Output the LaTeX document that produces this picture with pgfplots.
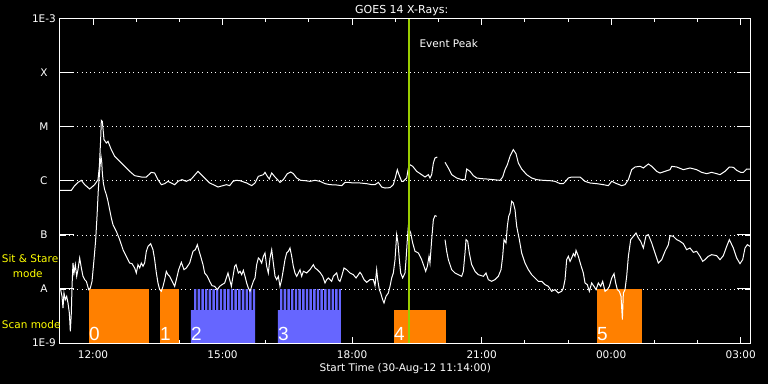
\documentclass[border=0pt]{standalone}
\usepackage{fontspec}
\setmainfont{DejaVu Sans}
\newfontfamily\digitfont{Liberation Sans}
\usepackage{pgfplots}
\pgfplotsset{compat=1.18}
\definecolor{scanorange}{RGB}{255,128,0}
\definecolor{scanblue}{RGB}{102,102,255}
\definecolor{peakgreen}{RGB}{154,205,0}
\definecolor{modeyellow}{RGB}{255,255,0}
\newcommand{\lbl}{\fontsize{10.5bp}{12bp}\selectfont}
\newcommand{\dgt}{\digitfont\fontsize{19bp}{19bp}\selectfont}
\begin{document}
\begin{tikzpicture}
\fill[black] (-59.9bp,-41bp) rectangle (708.1bp,343bp);
\pgfplotsset{base/.style={width=690.9bp,height=324bp,scale only axis,at={(0,0)},anchor=south west,
  xmin=11.2333,xmax=27.2333,ymin=-9,ymax=-3,
  axis line style={white,line width=1bp}, tick style={white,line width=1bp},
  tick align=inside, xtick pos=both, ytick pos=both,
  every tick label/.append style={white,font=\lbl}}}
\begin{axis}[base,
  xtick={12,15,18,21,24,27},
  xticklabels={12:00,15:00,18:00,21:00,00:00,03:00},
  minor xtick={13,14,16,17,19,20,22,23,25,26},
  major tick length=6bp, minor tick length=3.5bp,
  xticklabel style={anchor=center,yshift=-12bp},
  ytick={-8,-7,-6,-5,-4}, yticklabels={},
  ymajorgrids, grid style={white,line width=1bp,dash pattern=on 1bp off 3.32bp},
  xlabel={Start Time (30-Aug-12 11:14:00)},
  xlabel style={white,font=\lbl,at={(axis description cs:0.5,0)},anchor=center,yshift=-26bp},
  unbounded coords=jump]
% scan blocks
\addplot[fill=scanorange,draw=none] coordinates {(11.907,-9) (11.907,-8) (13.297,-8) (13.297,-9)} -- cycle;
\addplot[fill=scanorange,draw=none] coordinates {(13.552,-9) (13.552,-8) (13.992,-8) (13.992,-9)} -- cycle;
\addplot[fill=scanblue,draw=none] coordinates {(14.269,-9) (14.269,-8.389) (14.339,-8.389) (14.339,-8) (14.395,-8) (14.395,-8.389) (14.424,-8.389) (14.424,-8) (14.480,-8) (14.480,-8.389) (14.509,-8.389) (14.509,-8) (14.565,-8) (14.565,-8.389) (14.595,-8.389) (14.595,-8) (14.651,-8) (14.651,-8.389) (14.680,-8.389) (14.680,-8) (14.736,-8) (14.736,-8.389) (14.765,-8.389) (14.765,-8) (14.821,-8) (14.821,-8.389) (14.850,-8.389) (14.850,-8) (14.906,-8) (14.906,-8.389) (14.936,-8.389) (14.936,-8) (14.992,-8) (14.992,-8.389) (15.021,-8.389) (15.021,-8) (15.077,-8) (15.077,-8.389) (15.106,-8.389) (15.106,-8) (15.162,-8) (15.162,-8.389) (15.191,-8.389) (15.191,-8) (15.247,-8) (15.247,-8.389) (15.276,-8.389) (15.276,-8) (15.332,-8) (15.332,-8.389) (15.362,-8.389) (15.362,-8) (15.418,-8) (15.418,-8.389) (15.447,-8.389) (15.447,-8) (15.503,-8) (15.503,-8.389) (15.532,-8.389) (15.532,-8) (15.588,-8) (15.588,-8.389) (15.617,-8.389) (15.617,-8) (15.673,-8) (15.673,-8.389) (15.702,-8.389) (15.702,-8) (15.752,-8) (15.752,-9)} -- cycle;
\addplot[fill=scanblue,draw=none] coordinates {(16.284,-9) (16.284,-8.389) (16.331,-8.389) (16.331,-8) (16.387,-8) (16.387,-8.389) (16.416,-8.389) (16.416,-8) (16.472,-8) (16.472,-8.389) (16.501,-8.389) (16.501,-8) (16.557,-8) (16.557,-8.389) (16.587,-8.389) (16.587,-8) (16.643,-8) (16.643,-8.389) (16.672,-8.389) (16.672,-8) (16.728,-8) (16.728,-8.389) (16.757,-8.389) (16.757,-8) (16.813,-8) (16.813,-8.389) (16.842,-8.389) (16.842,-8) (16.898,-8) (16.898,-8.389) (16.928,-8.389) (16.928,-8) (16.984,-8) (16.984,-8.389) (17.013,-8.389) (17.013,-8) (17.069,-8) (17.069,-8.389) (17.098,-8.389) (17.098,-8) (17.154,-8) (17.154,-8.389) (17.183,-8.389) (17.183,-8) (17.239,-8) (17.239,-8.389) (17.268,-8.389) (17.268,-8) (17.324,-8) (17.324,-8.389) (17.354,-8.389) (17.354,-8) (17.410,-8) (17.410,-8.389) (17.439,-8.389) (17.439,-8) (17.495,-8) (17.495,-8.389) (17.524,-8.389) (17.524,-8) (17.580,-8) (17.580,-8.389) (17.609,-8.389) (17.609,-8) (17.665,-8) (17.665,-8.389) (17.694,-8.389) (17.694,-8) (17.743,-8) (17.743,-9)} -- cycle;
\addplot[fill=scanorange,draw=none] coordinates {(18.971,-9) (18.971,-8.389) (20.168,-8.389) (20.168,-9)} -- cycle;
\addplot[fill=scanorange,draw=none] coordinates {(23.672,-9) (23.672,-8) (24.707,-8) (24.707,-9)} -- cycle;
% long channel (1-8 A)
\addplot[white,line width=1bp] coordinates {
(11.234,-6.173) (11.498,-6.173) (11.575,-6.086) (11.652,-6.025) (11.730,-5.988) (11.807,-6.068) (11.923,-6.148) (12.038,-6.068) (12.116,-5.975) (12.147,-5.728) (12.177,-5.235) (12.193,-4.877) (12.216,-4.895) (12.255,-5.235) (12.309,-5.296) (12.347,-5.265) (12.424,-5.420) (12.502,-5.543) (12.617,-5.636) (12.733,-5.728) (12.849,-5.821) (12.965,-5.901) (13.119,-5.926) (13.235,-5.926) (13.351,-5.840) (13.428,-5.852) (13.505,-5.975) (13.582,-6.068) (13.660,-6.049) (13.737,-6.006) (13.814,-6.037) (13.891,-6.068) (13.968,-6.006) (14.061,-5.975) (14.161,-6.006) (14.277,-5.963) (14.432,-5.821) (14.509,-5.883) (14.586,-5.944) (14.702,-6.037) (14.818,-6.080) (14.895,-6.111) (15.010,-6.086) (15.088,-6.068) (15.165,-6.086) (15.242,-6.006) (15.312,-5.988) (15.404,-5.994) (15.559,-6.037) (15.674,-6.086) (15.752,-6.037) (15.829,-5.914) (15.945,-5.883) (15.983,-5.840) (16.037,-5.914) (16.084,-5.963) (16.138,-5.852) (16.215,-5.926) (16.331,-6.025) (16.408,-5.975) (16.500,-5.864) (16.578,-5.833) (16.639,-5.864) (16.717,-5.944) (16.809,-5.988) (16.910,-5.994) (17.025,-6.006) (17.141,-5.988) (17.257,-6.006) (17.373,-6.049) (17.489,-6.068) (17.643,-6.074) (17.759,-6.086) (17.836,-6.025) (17.913,-6.025) (18.029,-6.037) (18.183,-6.037) (18.338,-6.049) (18.453,-6.068) (18.531,-6.068) (18.608,-6.025) (18.685,-6.111) (18.762,-6.130) (18.878,-6.123) (18.955,-6.068) (19.009,-5.914) (19.048,-5.790) (19.086,-5.883) (19.148,-6.006) (19.187,-6.006) (19.264,-5.944) (19.303,-5.759) (19.341,-5.698) (19.403,-5.728) (19.496,-5.821) (19.611,-5.883) (19.689,-5.926) (19.766,-5.883) (19.804,-5.944) (19.843,-5.883) (19.882,-5.667) (19.920,-5.574) (19.974,-5.556) (20.060,nan) (20.152,-5.654) (20.229,-5.759) (20.306,-5.883) (20.422,-5.944) (20.538,-5.975) (20.615,-5.975) (20.654,-5.778) (20.731,-5.821) (20.808,-5.901) (20.885,-5.944) (21.001,-5.957) (21.117,-5.963) (21.271,-5.975) (21.426,-5.988) (21.487,-5.926) (21.541,-5.790) (21.595,-5.698) (21.657,-5.543) (21.734,-5.420) (21.796,-5.494) (21.850,-5.667) (21.927,-5.778) (22.043,-5.883) (22.159,-5.944) (22.275,-5.975) (22.429,-5.988) (22.583,-5.994) (22.699,-6.006) (22.815,-6.049) (22.892,-6.049) (22.946,-6.006) (23.008,-5.944) (23.085,-5.926) (23.162,-5.926) (23.278,-5.926) (23.394,-6.006) (23.510,-6.037) (23.664,-6.049) (23.819,-6.068) (23.934,-6.086) (24.012,-6.006) (24.127,-6.049) (24.243,-6.086) (24.320,-6.068) (24.398,-5.975) (24.475,-5.790) (24.552,-5.741) (24.668,-5.728) (24.745,-5.759) (24.861,-5.685) (24.938,-5.728) (25.054,-5.821) (25.131,-5.852) (25.247,-5.821) (25.362,-5.790) (25.401,-5.728) (25.517,-5.741) (25.671,-5.790) (25.826,-5.759) (25.980,-5.790) (26.096,-5.840) (26.212,-5.864) (26.327,-5.840) (26.443,-5.864) (26.520,-5.883) (26.636,-5.821) (26.737,-5.741) (26.829,-5.747) (26.906,-5.802) (26.999,-5.840) (27.061,-5.840) (27.138,-5.778) (27.215,-5.778)};
% short channel (0.5-4 A)
\addplot[white,line width=1bp] coordinates {
(11.234,-8.000) (11.251,-8.012) (11.282,-8.136) (11.305,-8.352) (11.328,-8.074) (11.359,-8.198) (11.390,-8.136) (11.421,-8.259) (11.452,-8.444) (11.475,-8.784) (11.498,-8.444) (11.514,-7.951) (11.537,-7.519) (11.560,-7.704) (11.591,-7.549) (11.622,-7.765) (11.652,-7.642) (11.691,-7.426) (11.730,-7.611) (11.768,-7.765) (11.807,-7.827) (11.846,-7.858) (11.900,-8.012) (11.938,-7.981) (11.977,-7.858) (12.023,-7.457) (12.062,-7.086) (12.093,-6.654) (12.123,-6.160) (12.162,-5.728) (12.185,-5.543) (12.201,-5.636) (12.216,-5.852) (12.239,-6.037) (12.270,-6.160) (12.309,-6.253) (12.347,-6.376) (12.386,-6.531) (12.424,-6.685) (12.463,-6.809) (12.540,-6.932) (12.617,-7.086) (12.695,-7.272) (12.772,-7.395) (12.849,-7.519) (12.903,-7.531) (12.965,-7.611) (13.003,-7.704) (13.042,-7.549) (13.081,-7.611) (13.119,-7.519) (13.158,-7.580) (13.196,-7.519) (13.235,-7.302) (13.274,-7.210) (13.335,-7.160) (13.389,-7.272) (13.428,-7.457) (13.467,-7.704) (13.505,-7.889) (13.544,-8.012) (13.582,-8.043) (13.621,-7.951) (13.660,-7.827) (13.698,-7.673) (13.737,-7.735) (13.775,-7.765) (13.814,-7.827) (13.891,-7.951) (13.930,-7.827) (13.984,-7.642) (14.046,-7.506) (14.107,-7.642) (14.161,-7.611) (14.239,-7.519) (14.316,-7.302) (14.370,-7.272) (14.416,-7.179) (14.447,-7.272) (14.493,-7.395) (14.547,-7.549) (14.586,-7.704) (14.648,-7.765) (14.702,-7.858) (14.756,-7.938) (14.818,-7.951) (14.879,-8.012) (14.933,-7.951) (14.987,-7.920) (15.049,-7.889) (15.126,-7.704) (15.165,-7.827) (15.204,-7.951) (15.242,-7.765) (15.281,-7.580) (15.312,-7.549) (15.366,-7.704) (15.404,-7.673) (15.443,-7.735) (15.481,-7.654) (15.520,-7.765) (15.559,-7.889) (15.597,-7.981) (15.636,-8.043) (15.674,-7.951) (15.713,-7.858) (15.752,-7.796) (15.790,-7.549) (15.829,-7.426) (15.867,-7.457) (15.906,-7.519) (15.945,-7.395) (15.983,-7.333) (16.022,-7.580) (16.060,-7.704) (16.099,-7.426) (16.138,-7.272) (16.176,-7.519) (16.215,-7.765) (16.253,-7.827) (16.292,-7.765) (16.330,-7.951) (16.369,-7.827) (16.408,-7.642) (16.446,-7.457) (16.485,-7.333) (16.524,-7.302) (16.562,-7.241) (16.601,-7.395) (16.639,-7.580) (16.678,-7.704) (16.717,-7.765) (16.755,-7.704) (16.794,-7.642) (16.832,-7.765) (16.871,-7.673) (16.948,-7.704) (17.025,-7.642) (17.103,-7.549) (17.141,-7.611) (17.195,-7.642) (17.257,-7.691) (17.319,-7.765) (17.373,-7.889) (17.411,-7.827) (17.450,-7.796) (17.489,-7.827) (17.527,-7.858) (17.566,-7.765) (17.643,-7.704) (17.681,-7.827) (17.720,-7.858) (17.759,-7.765) (17.813,-7.611) (17.875,-7.642) (17.952,-7.704) (18.029,-7.735) (18.091,-7.796) (18.145,-7.735) (18.183,-7.691) (18.222,-7.735) (18.276,-7.827) (18.338,-7.876) (18.415,-7.827) (18.492,-7.827) (18.531,-7.938) (18.569,-7.642) (18.592,-7.827) (18.631,-8.012) (18.662,-8.074) (18.708,-8.198) (18.739,-8.259) (18.785,-8.136) (18.839,-8.074) (18.878,-7.951) (18.917,-7.796) (18.955,-7.704) (18.994,-7.457) (19.032,-6.994) (19.063,-7.148) (19.094,-7.457) (19.125,-7.704) (19.171,-7.796) (19.225,-7.704) (19.249,-7.457) (19.279,-7.086) (19.303,-6.839) (19.326,-6.901) (19.357,-6.963) (19.403,-7.148) (19.457,-7.302) (19.534,-7.333) (19.611,-7.457) (19.665,-7.580) (19.704,-7.673) (19.743,-7.580) (19.781,-7.395) (19.804,-7.519) (19.843,-7.086) (19.882,-6.716) (19.920,-6.642) (19.959,-6.654) (20.060,nan) (20.152,-7.086) (20.191,-7.302) (20.229,-7.457) (20.306,-7.642) (20.383,-7.704) (20.461,-7.735) (20.538,-7.765) (20.576,-7.673) (20.615,-7.333) (20.638,-7.086) (20.677,-7.117) (20.715,-7.333) (20.769,-7.549) (20.847,-7.673) (20.924,-7.735) (21.040,-7.765) (21.101,-7.704) (21.155,-7.827) (21.233,-7.858) (21.310,-7.827) (21.387,-7.765) (21.449,-7.642) (21.487,-7.395) (21.518,-7.086) (21.564,-7.148) (21.595,-6.839) (21.626,-6.654) (21.657,-6.593) (21.696,-6.376) (21.734,-6.407) (21.773,-6.531) (21.812,-6.839) (21.873,-7.086) (21.927,-7.333) (22.004,-7.519) (22.082,-7.642) (22.159,-7.735) (22.236,-7.796) (22.313,-7.858) (22.391,-7.858) (22.468,-7.920) (22.545,-7.951) (22.622,-8.043) (22.699,-8.012) (22.777,-8.074) (22.854,-8.043) (22.892,-7.981) (22.931,-7.827) (22.969,-7.457) (23.008,-7.395) (23.047,-7.488) (23.085,-7.426) (23.124,-7.346) (23.162,-7.395) (23.186,-7.284) (23.240,-7.395) (23.294,-7.549) (23.355,-7.704) (23.394,-7.889) (23.448,-7.920) (23.494,-8.043) (23.548,-7.889) (23.602,-7.951) (23.649,-8.012) (23.703,-7.889) (23.757,-7.951) (23.803,-7.858) (23.857,-8.043) (23.911,-8.012) (23.958,-7.951) (24.012,-7.796) (24.066,-7.716) (24.104,-7.889) (24.143,-8.012) (24.189,-8.043) (24.228,-8.136) (24.259,-8.568) (24.282,-8.074) (24.320,-8.012) (24.359,-7.765) (24.398,-7.395) (24.452,-7.086) (24.513,-7.025) (24.575,-6.963) (24.629,-7.056) (24.683,-7.117) (24.745,-7.241) (24.807,-7.012) (24.861,-6.994) (24.938,-7.148) (25.015,-7.333) (25.092,-7.519) (25.170,-7.457) (25.247,-7.302) (25.324,-7.179) (25.362,-7.012) (25.440,-7.025) (25.517,-7.086) (25.594,-7.117) (25.671,-7.160) (25.748,-7.272) (25.826,-7.241) (25.903,-7.321) (25.980,-7.302) (26.057,-7.395) (26.119,-7.488) (26.173,-7.457) (26.250,-7.395) (26.327,-7.364) (26.443,-7.383) (26.520,-7.457) (26.597,-7.383) (26.675,-7.210) (26.737,-7.086) (26.829,-7.241) (26.906,-7.426) (26.983,-7.531) (27.045,-7.457) (27.099,-7.241) (27.153,-7.179) (27.215,-7.210)};
% event peak
\addplot[peakgreen,line width=2.2bp] coordinates {(19.313,-9) (19.313,-3)};
\node[white,font=\lbl,anchor=base west,inner sep=0pt] at (axis cs:19.558,-3.519) {Event Peak};
% block numbers
\node[white,font=\dgt,anchor=south west,inner sep=0pt,yshift=2.3bp] at (axis cs:11.907,-9) {0};
\node[white,font=\dgt,anchor=south west,inner sep=0pt,yshift=2.3bp] at (axis cs:13.552,-9) {1};
\node[white,font=\dgt,anchor=south west,inner sep=0pt,yshift=2.3bp] at (axis cs:14.269,-9) {2};
\node[white,font=\dgt,anchor=south west,inner sep=0pt,yshift=2.3bp] at (axis cs:16.284,-9) {3};
\node[white,font=\dgt,anchor=south west,inner sep=0pt,yshift=2.3bp] at (axis cs:18.971,-9) {4};
\node[white,font=\dgt,anchor=south west,inner sep=0pt,yshift=2.3bp] at (axis cs:23.672,-9) {5};
\end{axis}
\begin{axis}[base, xtick=\empty,
  ytick={-9,-8,-7,-6,-5,-4,-3},
  yticklabels={1E-9,A,B,C,M,X,1E-3},
  major tick length=14bp,
  yticklabel style={anchor=center,xshift=-16bp}]
\addplot[draw=none] coordinates {(12,-6)};
\end{axis}
\node[white,font=\fontsize{11bp}{13bp}\selectfont,anchor=base,inner sep=0pt] at (341.8bp,329.5bp) {GOES 14 X-Rays:};
\node[modeyellow,font=\lbl,anchor=base west,inner sep=0pt] at (-58.2bp,80bp) {Sit \& Stare};
\node[modeyellow,font=\lbl,anchor=base west,inner sep=0pt] at (-47.2bp,65bp) {mode};
\node[modeyellow,font=\lbl,anchor=base west,inner sep=0pt] at (-58.2bp,15bp) {Scan mode};
\pgfresetboundingbox
\path[use as bounding box] (-59.9bp,-41bp) rectangle (708.1bp,343bp);
\end{tikzpicture}
\end{document}
